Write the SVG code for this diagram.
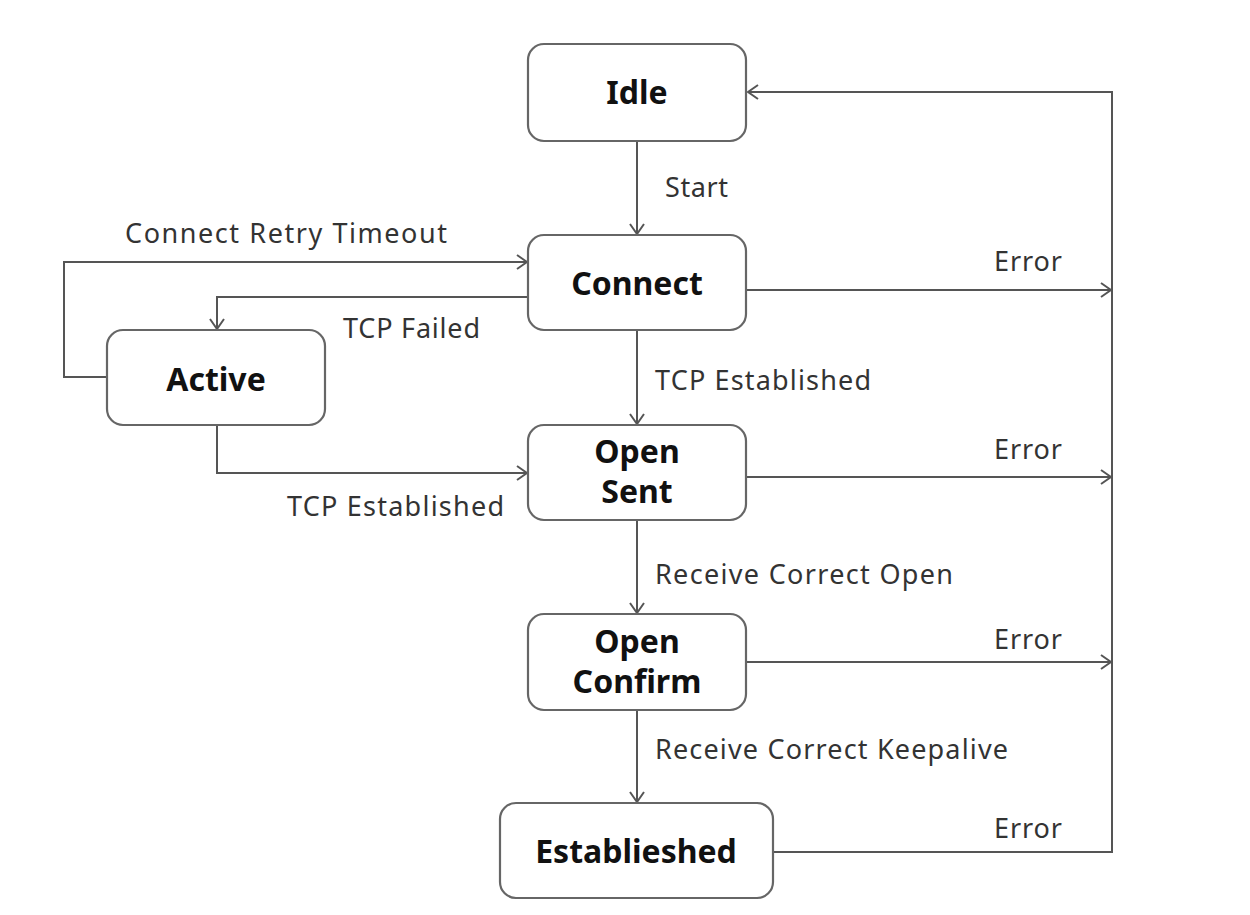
<svg xmlns="http://www.w3.org/2000/svg" width="1250" height="915" viewBox="0 0 1250 915">
<defs>
<marker id="arr" viewBox="0 0 12 16" refX="11" refY="8" markerWidth="12" markerHeight="16" markerUnits="userSpaceOnUse" orient="auto">
<path d="M1,1 L11,8 L1,15" fill="none" stroke="#555" stroke-width="2"/>
</marker>
<style>
.node rect{fill:#fff;stroke:#666;stroke-width:2.2}
.node text{font-family:"Noto Sans","Open Sans",sans-serif;font-weight:bold;font-size:32px;fill:#111;text-anchor:middle}
.c{fill:none;stroke:#555;stroke-width:2}
.a{marker-end:url(#arr)}
.lbl{font-family:"Noto Sans","Open Sans",sans-serif;font-size:27px;fill:#333}
</style>
</defs>
<rect width="1250" height="915" fill="#fff"/>
<g id="connectors">
<path class="c a" d="M637,141 V234"/>
<path class="c a" d="M637,330 V424"/>
<path class="c a" d="M637,520 V613"/>
<path class="c a" d="M637,710 V802"/>
<path class="c a" d="M107,377 H64 V262 H527"/>
<path class="c a" d="M528,297 H217 V329"/>
<path class="c a" d="M217,425 V473 H527"/>
<path class="c a" d="M747,290 H1111"/>
<path class="c a" d="M747,477 H1111"/>
<path class="c a" d="M747,662 H1111"/>
<path class="c a" d="M773,852 H1112 V92 H748"/>
</g>
<g id="labels">
<text class="lbl" x="665" y="197" textLength="63">Start</text>
<text class="lbl" x="125" y="243" textLength="322">Connect Retry Timeout</text>
<text class="lbl" x="343" y="338" textLength="137">TCP Failed</text>
<text class="lbl" x="655" y="390" textLength="216">TCP Established</text>
<text class="lbl" x="287" y="516" textLength="217">TCP Established</text>
<text class="lbl" x="655" y="584" textLength="298">Receive Correct Open</text>
<text class="lbl" x="655" y="759" textLength="353">Receive Correct Keepalive</text>
<text class="lbl" x="994" y="271" textLength="68">Error</text>
<text class="lbl" x="994" y="459" textLength="68">Error</text>
<text class="lbl" x="994" y="649" textLength="68">Error</text>
<text class="lbl" x="994" y="838" textLength="68">Error</text>
</g>
<g id="idle" class="node"><rect x="528" y="44" width="218" height="97" rx="16"/><text x="637" y="104">Idle</text></g>
<g id="connect" class="node"><rect x="528" y="235" width="218" height="95" rx="16"/><text x="637" y="295">Connect</text></g>
<g id="active" class="node"><rect x="107" y="330" width="218" height="95" rx="16"/><text x="216" y="391">Active</text></g>
<g id="opensent" class="node"><rect x="528" y="425" width="218" height="95" rx="16"/><text x="637" y="463"><tspan x="637" y="463">Open</tspan><tspan x="637" y="503">Sent</tspan></text></g>
<g id="openconfirm" class="node"><rect x="528" y="614" width="218" height="96" rx="16"/><text x="637" y="653"><tspan x="637" y="653">Open</tspan><tspan x="637" y="693">Confirm</tspan></text></g>
<g id="established" class="node"><rect x="500" y="803" width="273" height="95" rx="16"/><text x="636" y="863">Establieshed</text></g>
</svg>
